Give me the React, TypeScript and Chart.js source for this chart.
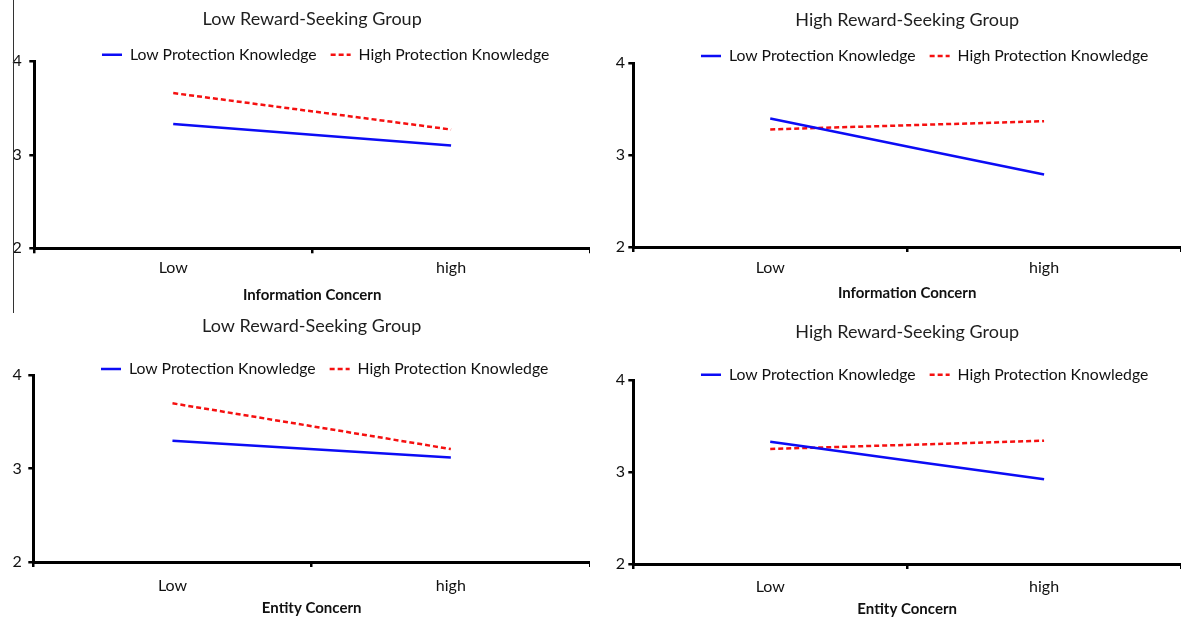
import React, { useEffect, useRef } from 'react';
import { Chart, registerables } from 'chart.js';

Chart.register(...registerables);

// ---------- data ----------
const categories = ['Low', 'high'];
const yTickValues = [2, 3, 4];
const seriesLabels = ['Low Protection Knowledge', 'High Protection Knowledge'];
const panelTitles = [
  'Low Reward-Seeking Group',
  'High Reward-Seeking Group',
  'Low Reward-Seeking Group',
  'High Reward-Seeking Group',
];
const xAxisTitles = ['Information Concern', 'Information Concern', 'Entity Concern', 'Entity Concern'];

const lowRewardInfoLowPK = [3.33, 3.1];
const lowRewardInfoHighPK = [3.66, 3.27];
const highRewardInfoLowPK = [3.4, 2.79];
const highRewardInfoHighPK = [3.28, 3.37];
const lowRewardEntityLowPK = [3.3, 3.12];
const lowRewardEntityHighPK = [3.7, 3.21];
const highRewardEntityLowPK = [3.33, 2.92];
const highRewardEntityHighPK = [3.25, 3.34];

const panelSeries = [
  [lowRewardInfoLowPK, lowRewardInfoHighPK],
  [highRewardInfoLowPK, highRewardInfoHighPK],
  [lowRewardEntityLowPK, lowRewardEntityHighPK],
  [highRewardEntityLowPK, highRewardEntityHighPK],
];

// ---------- layout (canvas-relative pixel positions) ----------
const panelLayouts = [
  { left: 0, top: 0, w: 590, h: 310, axisX: 34.3, chartTop: 61.3, chartBottom: 248.3, titleY: 19, legendY: 54.7, legendX: 102, xLabelGap: 19.7, xTitleY: 295, yLabelRight: 21.7 },
  { left: 590, top: 0, w: 591, h: 310, axisX: 43.3, chartTop: 63.3, chartBottom: 247, titleY: 20.5, legendY: 56, legendX: 111, xLabelGap: 20.5, xTitleY: 293.5, yLabelRight: 35 },
  { left: 0, top: 310, w: 590, h: 309, axisX: 33.3, chartTop: 65.3, chartBottom: 252, titleY: 16.5, legendY: 59, legendX: 101, xLabelGap: 24, xTitleY: 298.5, yLabelRight: 21.7 },
  { left: 590, top: 310, w: 591, h: 309, axisX: 43.3, chartTop: 70, chartBottom: 254, titleY: 21.7, legendY: 64.7, legendX: 111, xLabelGap: 23, xTitleY: 299.5, yLabelRight: 35 },
];

const BLUE = '#0c0cf5';
const RED = '#f51010';
const FONT = 'Lato';
const TITLE_SIZE = 18;
const LEGEND_SIZE = 15.75;
const LEGEND_PAD = 14;
const LEGEND_MAXH = 20;

const panelPlacer = {
  id: 'panelPlacer',
  afterLayout(chart: any, _args: any, o: any) {
    if (!o) return;
    const ca = chart.chartArea;
    const tb = chart.titleBlock;
    if (tb && o.titleY != null) {
      const h = tb.bottom - tb.top;
      tb.top = o.titleY - TITLE_SIZE / 2;
      tb.bottom = tb.top + h;
      const w = tb.right - tb.left;
      const cx = (ca.left + ca.right) / 2;
      tb.left = cx - w / 2;
      tb.right = cx + w / 2;
    }
    const lg = chart.legend;
    if (lg && o.legendY != null) {
      const p = LEGEND_PAD;
      lg.top = o.legendY - p - LEGEND_SIZE / 2;
      lg.bottom = lg.top + p * 2 + LEGEND_SIZE + 12;
      lg.height = lg.bottom - lg.top;
      const lw = lg.lineWidths ? lg.lineWidths[0] : 0;
      const start = (lg.left + p + lg.right - lw) / 2;
      const dx = o.legendX - start;
      lg.left += dx;
      lg.right += dx;
    }
  },
};

function Panel({ idx }: { idx: number }) {
  const ref = useRef<HTMLCanvasElement | null>(null);
  const L = panelLayouts[idx];
  useEffect(() => {
    if (!ref.current) return;
    const [lowPK, highPK] = panelSeries[idx];
    const padTop = L.chartTop - TITLE_SIZE - LEGEND_MAXH;
    const xAxisH = L.h - L.chartBottom;
    const chart = new Chart(ref.current, {
      type: 'line',
      data: {
        labels: categories,
        datasets: [
          {
            label: seriesLabels[0],
            data: lowPK,
            borderColor: BLUE,
            backgroundColor: BLUE,
            borderWidth: 2.5,
            pointRadius: 0,
            pointHoverRadius: 0,
            tension: 0,
            fill: false,
          },
          {
            label: seriesLabels[1],
            data: highPK,
            borderColor: RED,
            backgroundColor: RED,
            borderWidth: 2.5,
            borderDash: [5, 3],
            pointRadius: 0,
            pointHoverRadius: 0,
            tension: 0,
            fill: false,
          },
        ],
      },
      plugins: [panelPlacer],
      options: {
        responsive: false,
        animation: false,
        events: [],
        layout: { padding: { top: padTop, left: 0, right: 0, bottom: 0 } },
        plugins: {
          tooltip: { enabled: false },
          title: {
            display: true,
            text: panelTitles[idx],
            color: '#1e1e1e',
            font: { family: FONT, size: TITLE_SIZE, weight: 'normal', lineHeight: 1 },
            padding: 0,
          },
          legend: {
            display: true,
            position: 'top',
            maxHeight: LEGEND_MAXH,
            labels: {
              color: '#111',
              font: { family: FONT, size: LEGEND_SIZE },
              padding: LEGEND_PAD,
              usePointStyle: true,
              pointStyle: 'line',
              pointStyleWidth: 20,
              generateLabels: (c: any) => {
                const items = (Chart.defaults.plugins.legend.labels as any).generateLabels(c);
                items.forEach((it: any, i: number) => {
                  const ds: any = c.data.datasets[i];
                  it.lineDash = ds.borderDash || [];
                  it.lineWidth = ds.borderWidth;
                  it.strokeStyle = ds.borderColor;
                  it.fillStyle = ds.borderColor;
                  it.pointStyle = 'line';
                });
                return items;
              },
            },
          },
          panelPlacer: { titleY: L.titleY, legendY: L.legendY, legendX: L.legendX },
        } as any,
        scales: {
          x: {
            type: 'category',
            offset: true,
            grid: {
              display: true,
              offset: true,
              drawOnChartArea: false,
              drawTicks: true,
              tickLength: 5,
              color: '#000',
              lineWidth: 2.5,
              tickWidth: 2.5,
            },
            border: { display: true, color: '#000', width: 3 },
            ticks: {
              color: '#111',
              font: { family: FONT, size: 16, lineHeight: 1.2 },
              padding: L.xLabelGap - 5 - 9.6,
              maxRotation: 0,
            },
            title: {
              display: true,
              text: xAxisTitles[idx],
              color: '#111',
              font: { family: FONT, size: 15, weight: 'bold', lineHeight: 1.2 },
              padding: { top: 0, bottom: L.h - L.xTitleY - 9 },
            },
            afterFit: (s: any) => {
              s.height = xAxisH;
            },
          },
          y: {
            type: 'linear',
            min: 2,
            max: 4,
            grid: {
              display: true,
              drawOnChartArea: false,
              drawTicks: true,
              tickLength: 5,
              color: '#000',
              lineWidth: 2.5,
              tickWidth: 2.5,
            },
            border: { display: true, color: '#000', width: 3 },
            ticks: {
              color: '#111',
              font: { family: FONT, size: 16 },
              padding: L.axisX - 5 - L.yLabelRight,
            },
            afterBuildTicks: (s: any) => {
              s.ticks = yTickValues.map((v) => ({ value: v }));
            },
            afterFit: (s: any) => {
              s.width = L.axisX;
            },
          },
        },
      } as any,
    });
    return () => chart.destroy();
  }, [idx]);
  return (
    <canvas
      ref={ref}
      width={L.w}
      height={L.h}
      style={{ position: 'absolute', left: L.left, top: L.top, width: L.w, height: L.h }}
    />
  );
}

export default function App() {
  return (
    <div
      style={{
        position: 'fixed',
        left: 0,
        top: 0,
        width: 1181,
        height: 619,
        overflow: 'hidden',
        background: '#fff',
      }}
    >
      {panelLayouts.map((_, i) => (
        <Panel key={i} idx={i} />
      ))}
      <div style={{ position: 'absolute', left: 13, top: 0, width: 1, height: 313, background: '#333' }} />
    </div>
  );
}
